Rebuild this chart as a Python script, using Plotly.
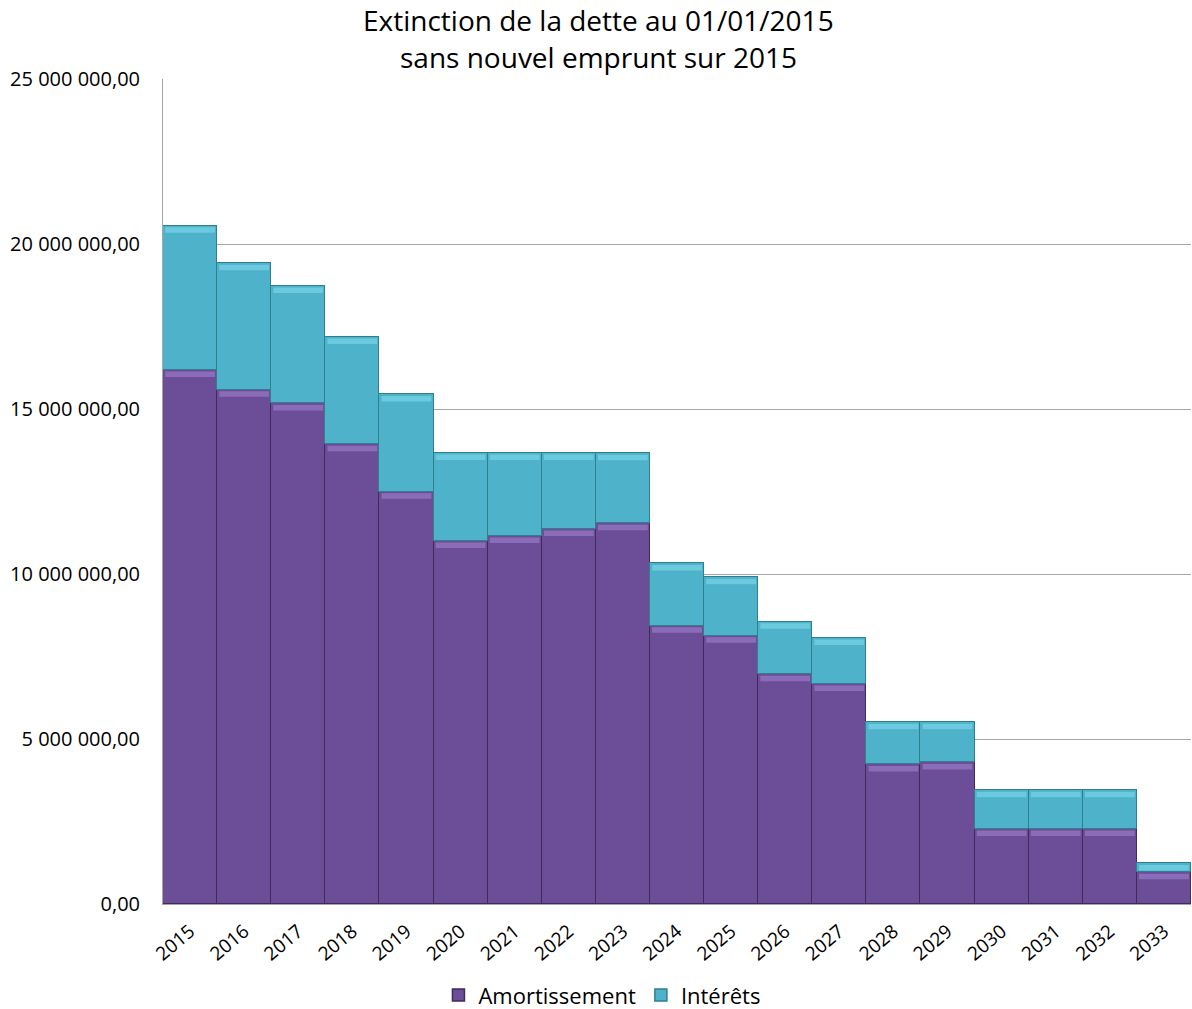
import plotly.graph_objects as go

years = [str(y) for y in range(2015, 2034)]
totals = [20.55, 19.42, 18.73, 17.18, 15.44, 13.67, 13.67, 13.67, 13.66, 10.32,
          9.90, 8.55, 8.06, 5.51, 5.51, 3.45, 3.45, 3.45, 1.23]
amortissement_m = [16.18, 15.58, 15.17, 13.93, 12.49, 11.00, 11.15, 11.36, 11.54, 8.43,
                   8.13, 6.96, 6.67, 4.23, 4.29, 2.27, 2.27, 2.27, 0.96]

amortissement = [a * 1e6 for a in amortissement_m]
interets = [(t - a) * 1e6 for t, a in zip(totals, amortissement_m)]

font_family = "Open Sans, Liberation Sans, sans-serif"

fig = go.Figure()
fig.add_trace(go.Bar(
    x=years, y=amortissement, name="Amortissement",
    marker=dict(color="#6c4e98", line=dict(color="#3f2b5c", width=1.5)),
))
fig.add_trace(go.Bar(
    x=years, y=interets, name="Intérêts",
    marker=dict(color="#4db2ca", line=dict(color="#2f7f8f", width=1.5)),
))

# bevel highlights along the top of each segment (anchored on data values)
for i, (a, it) in enumerate(zip(amortissement, interets)):
    for top, col in ((a, "#a585d3"), (a + it, "#86def0")):
        fig.add_shape(
            type="rect", xref="x", yref="y", ysizemode="pixel", yanchor=top,
            x0=i - 0.5 + 0.04, x1=i + 0.5 - 0.04, y0=-1.5, y1=-7,
            fillcolor=col, opacity=0.55, line=dict(width=0), layer="above",
        )

fig.add_annotation(
    text="Extinction de la dette au 01/01/2015", xref="paper", yref="paper",
    x=0.424, y=1.0 + (79 - 20) / 825, xanchor="center", yanchor="middle",
    showarrow=False, font=dict(size=28, family=font_family),
)
fig.add_annotation(
    text="sans nouvel emprunt sur 2015", xref="paper", yref="paper",
    x=0.424, y=1.0 + (79 - 57) / 825, xanchor="center", yanchor="middle",
    showarrow=False, font=dict(size=28, family=font_family),
)

fig.update_layout(
    width=1192, height=1009,
    barmode="stack", bargap=0,
    separators=", ",
    paper_bgcolor="white", plot_bgcolor="white",
    margin=dict(l=163, r=1, t=79, b=105, autoexpand=False),
    font=dict(family=font_family, color="#000000"),
    showlegend=True,
    yaxis=dict(
        range=[0, 25e6], tickvals=[0, 5e6, 10e6, 15e6, 20e6, 25e6],
        tickformat=",.2f", showgrid=True, gridcolor="#a6a6a6", gridwidth=1,
        showline=True, linecolor="#a6a6a6", linewidth=1,
        ticks="", ticklen=0, tickfont=dict(size=20, family=font_family),
        ticklabelstandoff=18, automargin=False,
        zeroline=False,
    ),
    xaxis=dict(
        tickangle=-40, tickfont=dict(size=19, family=font_family),
        showline=True, linecolor="#a6a6a6", linewidth=1,
        ticks="", showgrid=False, ticklabelstandoff=8, automargin=False,
        range=[-0.5, 18.5],
    ),
    legend=dict(
        orientation="h", x=0.427, xanchor="center", y=-0.085, yanchor="top",
        font=dict(size=22, family=font_family), traceorder="normal",
        itemwidth=30,
    ),
)

fig.write_html("out.html")
